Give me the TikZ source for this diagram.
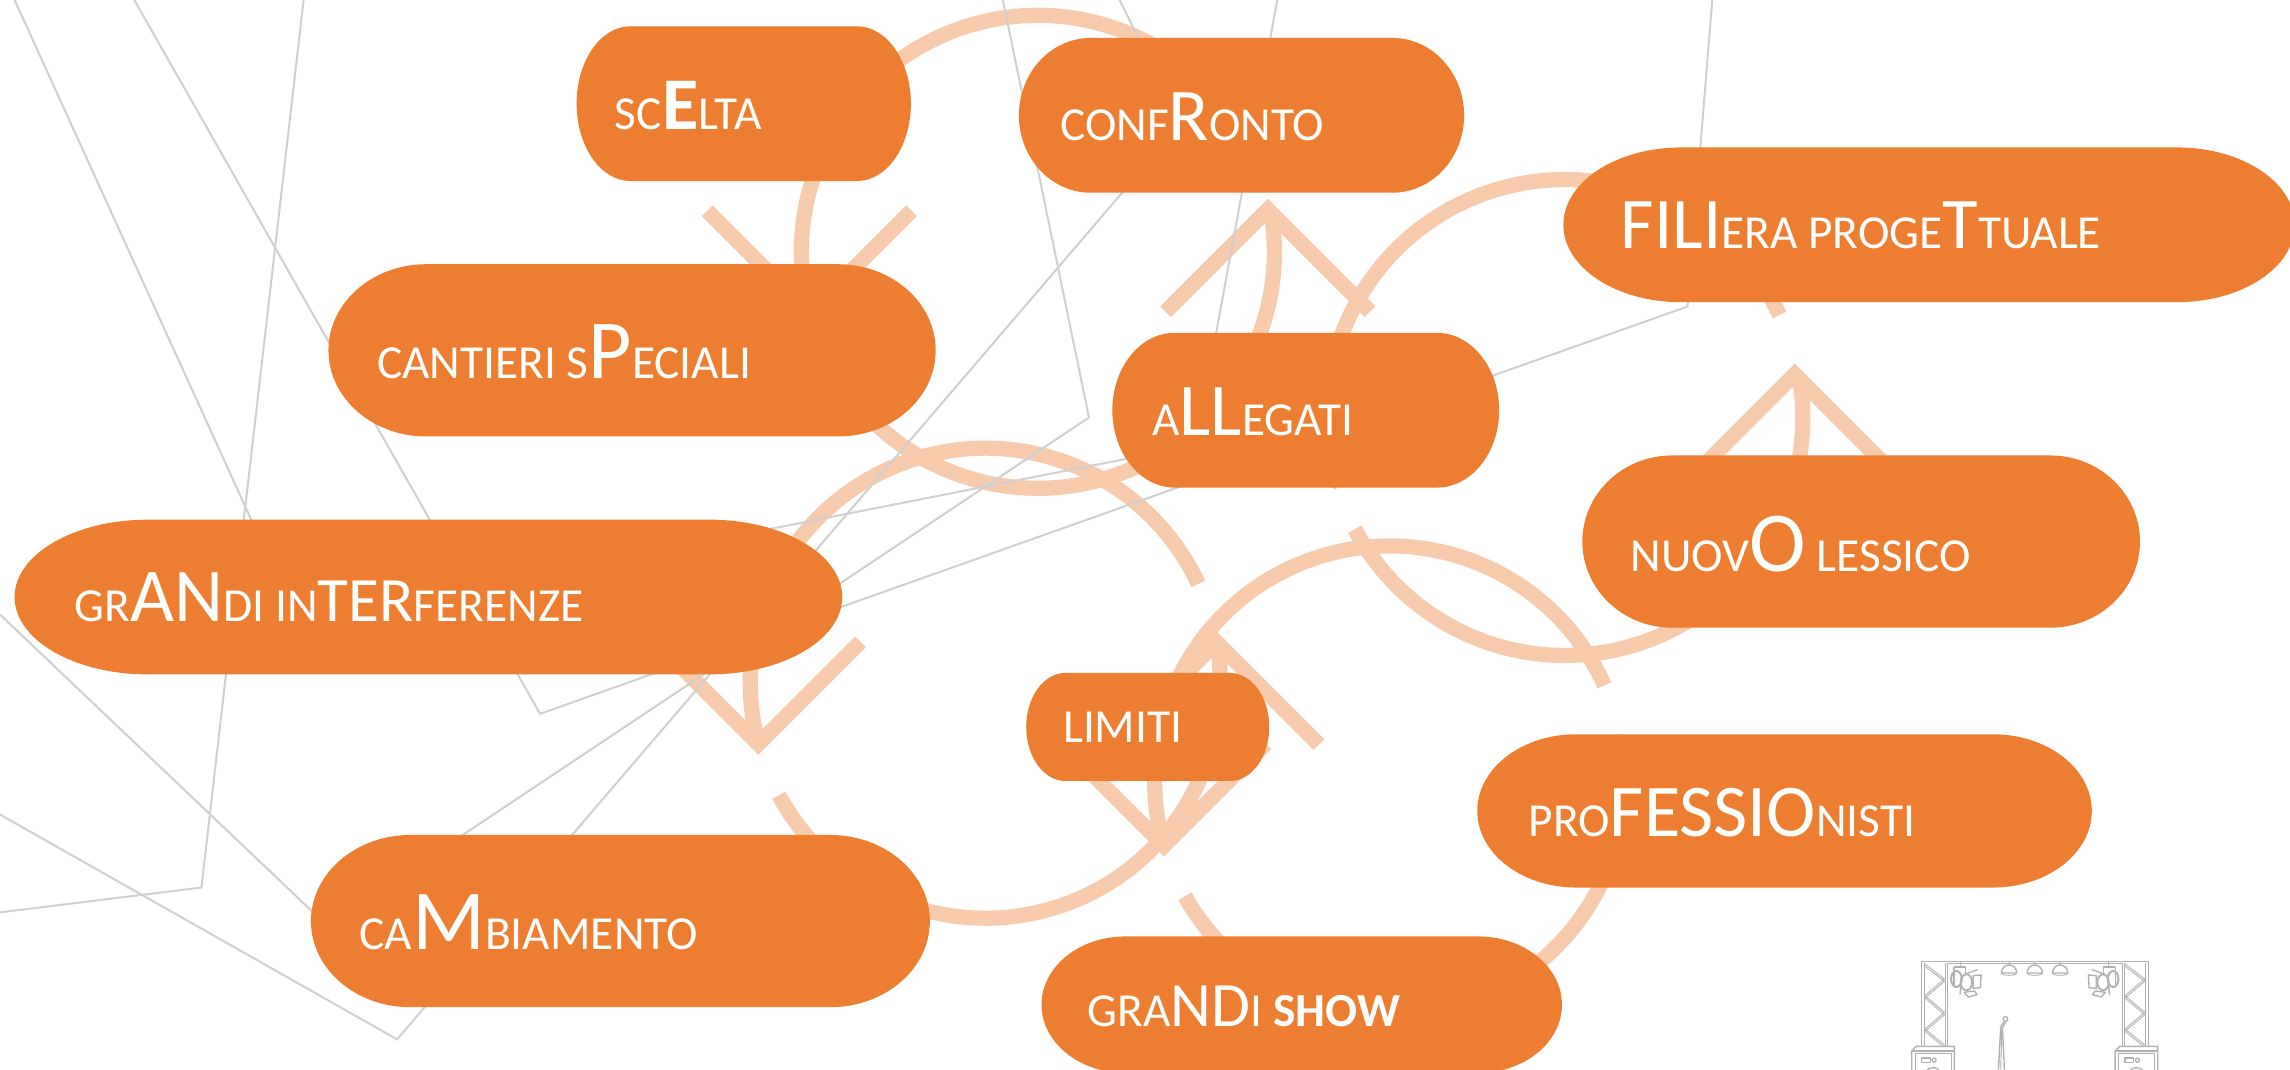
\documentclass[tikz,border=0pt]{standalone}
\usepackage{fontspec}
\setmainfont{Carlito}
\definecolor{nodeorange}{HTML}{ED7D31}
\definecolor{ringpeach}{HTML}{F8CBAD}
\definecolor{thread}{HTML}{D0D0D0}
\definecolor{iconline}{HTML}{B2B2B2}
\tikzset{
  ringline/.style={draw=ringpeach,line width=7.6pt,line cap=butt,line join=miter,miter limit=10},
  threadline/.style={draw=thread,line width=1pt,line join=miter},
  termfill/.style={fill=nodeorange},
  termtext/.style={anchor=base west,inner sep=0pt,text=white,font=\fontsize{23.7}{24}\selectfont},
  iconstroke/.style={draw=iconline,line width=0.45pt,line join=round},
}
\newcommand{\fs}[2]{{\fontsize{#1}{#1}\selectfont #2}}
% name x1 y1 x2 y2 textx texty text
\newcommand{\termbox}[8]{%
  \pgfmathsetmacro\rxx{0.161*(#4-#2)}%
  \pgfmathsetmacro\ryy{(#5-#3)/2}%
  \fill[termfill] ({#2+\rxx},#3) -- ({#4-\rxx},#3)
     arc[start angle=-90,end angle=90,x radius=\rxx,y radius=\ryy]
     -- ({#2+\rxx},#5)
     arc[start angle=90,end angle=270,x radius=\rxx,y radius=\ryy] -- cycle;
  \node[termtext] (#1) at (#6,#7) {#8};%
}
\newcommand{\chevdown}[1]{\draw[ringline] ([shift={(-70,-70)}]#1) -- (#1) -- ([shift={(70,-70)}]#1);}
\newcommand{\chevup}[1]{\draw[ringline] ([shift={(-70,70)}]#1) -- (#1) -- ([shift={(70,70)}]#1);}
\begin{document}
\begin{tikzpicture}[x=0.73pt,y=-0.73pt]
\useasboundingbox (0,0) rectangle (1568.77,733);
\fill[white] (0,0) rectangle (1568.77,733);

% rings: centre, radius, apex and tail angles
\coordinate (ca) at (711,172.5);
\coordinate (cb) at (675,468);
\coordinate (cc) at (952,535);
\coordinate (cd) at (1072,286);

\path (ca) ++(165:162) coordinate (aDown);
\path (ca) ++(-10:162) coordinate (aUp);
\path (cb) ++(165:161) coordinate (bDown);
\path (cb) ++(-10:161) coordinate (bUp);
\path (cc) ++(164:161) coordinate (cDown);
\path (cc) ++(-9:161) coordinate (cUp);
\path (cd) ++(165:163) coordinate (dDown);
\path (cd) ++(-10:163) coordinate (dUp);
\coordinate (aTip) at (868.5,143.5);
\coordinate (dTip) at (1229.5,256.5);

\draw[ringline] (aDown) arc[start angle=165,end angle=320,radius=162];
\draw[ringline] (aUp) arc[start angle=-10,end angle=135,radius=162];
\draw[ringline] (bDown) arc[start angle=165,end angle=335,radius=161];
\draw[ringline] (bUp) arc[start angle=-10,end angle=151.5,radius=161];
\draw[ringline] (cDown) arc[start angle=164,end angle=336,radius=161];
\draw[ringline] (cUp) arc[start angle=-9,end angle=150.6,radius=161];
\draw[ringline] (dDown) arc[start angle=165,end angle=334.5,radius=163];
\draw[ringline] (dUp) arc[start angle=-10,end angle=152,radius=163];

\chevdown{aDown}\chevup{aTip}
\chevdown{bDown}\chevup{bUp}
\chevdown{cDown}\chevup{cUp}
\chevdown{dDown}\chevup{dTip}

% thin grey threads
\draw[threadline] (208,0) -- (138,608) -- (0,625);
\draw[threadline] (92,0) -- (370,489) -- (1156,210) -- (1173,0);
\draw[threadline] (10,0) -- (204,426) -- (819,305) -- (875,0);
\draw[threadline] (0,421) -- (224,634) -- (746,286) -- (687,0);
\draw[threadline] (0,558) -- (272,712) -- (809,85) -- (767,0);

% terminators
\termbox{scelta}{395}{18}{624}{124}{421}{88.5}{SC\fs{37.2}{\bfseries E}LTA}
\termbox{confronto}{698}{26}{1003}{132}{726}{96}{CONF\fs{37.2}{R}ONTO}
\termbox{filiera}{1071}{101}{1572}{207}{1110}{170.5}{\fs{36.4}{FILI}ERA PROGE\fs{36.4}{T}TUALE}
\termbox{cantieri}{225}{181}{641}{299}{258}{259}{CANTIERI S\fs{42}{P}ECIALI}
\termbox{allegati}{762}{228}{1027}{334}{789}{298}{A\fs{37.2}{LL}EGATI}
\termbox{nuovo}{1084}{312}{1466}{430}{1117}{391.7}{NUOV\fs{42.7}{O} LESSICO}
\termbox{grandi}{10}{356}{577}{462}{51}{426}{GR\fs{38}{AN}DI IN\fs{31.6}{TER}FERENZE}
\termbox{limiti}{703}{461}{869.5}{535}{728}{508.5}{LIMITI}
\termbox{profess}{1012}{503}{1433}{608}{1047}{573}{PRO\fs{37.2}{FESSIO}NISTI}
\termbox{cambia}{213}{572}{637}{690}{246}{650.5}{CA\fs{42.7}{M}BIAMENTO}
\termbox{show}{713.5}{641.5}{1070}{735}{745}{703}{GRA\fs{31.6}{ND}I {\bfseries SHOW}}

% stage icon: coordinates are crop pixels
\begin{scope}[shift={(1266.7,630)},x=0.1667pt,y=-0.1667pt]
  % top bar and trusses
  \draw[iconstroke] (217,450) -- (217,124) -- (897,124) -- (897,450);
  \draw[iconstroke] (296,450) -- (296,131) -- (820,131) -- (820,450);
  \draw[iconstroke] (288,450) -- (288,131);
  \draw[iconstroke] (826,450) -- (826,131);
  \draw[iconstroke] (225,450) -- (225,131);
  \draw[iconstroke] (889,450) -- (889,131);
  \foreach \o in {0,7}{
    \draw[iconstroke] (228,{133+\o}) -- (286,{178+\o}) -- (228,{228+\o}) -- (286,{278+\o}) -- (228,{328+\o}) -- (286,{376+\o});
    \draw[iconstroke] (828,{133+\o}) -- (887,{178+\o}) -- (828,{228+\o}) -- (887,{278+\o}) -- (828,{328+\o}) -- (887,{376+\o});
  }
  % hanging lamps
  \foreach \p in {480,557,633}{
    \draw[iconstroke] (\p,126) -- (\p,136);
    \draw[iconstroke,line width=0.7pt] ({\p-23},160) arc[start angle=180,end angle=360,x radius=23,y radius=24] -- cycle;
    \draw[iconstroke] ({\p-23},160) arc[start angle=180,end angle=0,x radius=23,y radius=7];
  }
  % spotlights
  \foreach \s/\m in {1/0,-1/1114}{
    \begin{scope}[xshift=\m*0.1667pt,xscale=\s]
      \draw[iconstroke,line width=0.7pt] (335,126) -- (335,142) (315,142) -- (350,142) -- (350,165) (315,142) -- (315,195);
      \draw[iconstroke,line width=1pt] (322,178) ellipse[x radius=16,y radius=24];
      \draw[iconstroke,line width=0.9pt] (352,188) ellipse[x radius=17,y radius=24];
      \draw[iconstroke,line width=0.7pt] (372,168) -- (396,166) -- (394,204) -- (372,206) -- cycle;
      \draw[iconstroke,line width=0.7pt] (345,165) -- (385,150) (333,225) -- (338,165);
      \draw[iconstroke,line width=0.7pt] (345,218) -- (376,214) -- (384,225) -- (358,232) -- cycle;
    \end{scope}
  }
  % microphone
  \draw[iconstroke,line width=0.7pt] (469,298) circle[radius=7];
  \draw[iconstroke,line width=0.7pt] (464,306) -- (455,322) -- (448,450);
  \draw[iconstroke,line width=0.7pt] (470,306) -- (460,325) -- (466,450);
  \draw[iconstroke] (458,325) -- (455,450);
  % loudspeakers
  \foreach \a/\b in {188/316,798/926}{
    \fill[white] (\a,380) rectangle (\b,470);
    \draw[iconstroke,line width=0.7pt] (\a,470) -- (\a,394) -- ({\a+14},380) -- (\b,380) -- (\b,470);
    \draw[iconstroke,line width=0.7pt] (\a,394) -- (\b,394);
    \draw[iconstroke] ({\a+10},470) -- ({\a+10},402) -- ({\b-10},402) -- ({\b-10},470);
    \draw[iconstroke,line width=0.7pt] ({\a+30},415) rectangle ({\a+56},428);
    \draw[iconstroke,line width=0.7pt] ({\a+67},421.5) circle[radius=6];
    \draw[iconstroke,line width=0.7pt] ({\a+64},470) circle[radius=26];
  }
\end{scope}
\end{tikzpicture}
\end{document}
